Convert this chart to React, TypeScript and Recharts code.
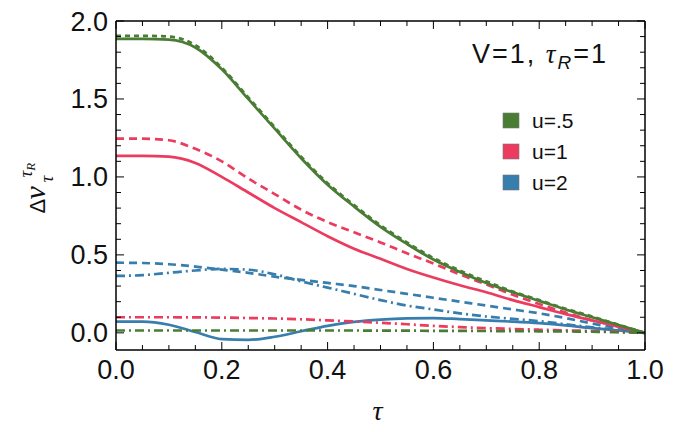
import { LineChart, Line, XAxis, YAxis, Legend, Label } from "recharts"

// tau grid
const T = [0, 0.05, 0.1, 0.15, 0.2, 0.25, 0.3, 0.35, 0.4, 0.45, 0.5, 0.55, 0.6, 0.65, 0.7, 0.75, 0.8, 0.85, 0.9, 0.95, 1]

// u = .5
const GREEN_SOLID = [1.885, 1.885, 1.88, 1.83, 1.69, 1.5, 1.31, 1.12, 0.95, 0.81, 0.68, 0.57, 0.47, 0.39, 0.32, 0.26, 0.205, 0.15, 0.1, 0.05, 0]
const GREEN_DASH = [1.905, 1.905, 1.9, 1.845, 1.7, 1.51, 1.32, 1.13, 0.96, 0.82, 0.69, 0.58, 0.48, 0.4, 0.33, 0.265, 0.21, 0.155, 0.105, 0.052, 0]
const GREEN_DOTDASH = [0.015, 0.015, 0.015, 0.015, 0.015, 0.015, 0.015, 0.015, 0.015, 0.015, 0.014, 0.014, 0.013, 0.013, 0.012, 0.011, 0.01, 0.009, 0.007, 0.004, 0]

// u = 1
const RED_SOLID = [1.135, 1.135, 1.13, 1.09, 1.0, 0.9, 0.8, 0.71, 0.62, 0.54, 0.475, 0.41, 0.355, 0.305, 0.26, 0.21, 0.165, 0.12, 0.08, 0.04, 0]
const RED_DASH = [1.245, 1.245, 1.235, 1.18, 1.1, 0.99, 0.89, 0.79, 0.71, 0.645, 0.58, 0.51, 0.445, 0.375, 0.31, 0.245, 0.185, 0.13, 0.08, 0.04, 0]
const RED_DOTDASH = [0.1, 0.1, 0.1, 0.099, 0.098, 0.095, 0.092, 0.087, 0.08, 0.073, 0.065, 0.055, 0.045, 0.037, 0.03, 0.025, 0.02, 0.016, 0.012, 0.006, 0]

// u = 2
const BLUE_SOLID = [0.072, 0.072, 0.052, 0.005, -0.04, -0.045, -0.025, 0.01, 0.045, 0.07, 0.085, 0.093, 0.095, 0.088, 0.08, 0.072, 0.062, 0.048, 0.03, 0.015, 0]
const BLUE_DASH = [0.45, 0.448, 0.44, 0.425, 0.405, 0.385, 0.36, 0.34, 0.32, 0.3, 0.275, 0.25, 0.225, 0.2, 0.175, 0.15, 0.125, 0.095, 0.06, 0.03, 0]
const BLUE_DOTDASH = [0.365, 0.37, 0.385, 0.4, 0.41, 0.405, 0.375, 0.33, 0.29, 0.25, 0.21, 0.175, 0.15, 0.125, 0.105, 0.09, 0.075, 0.055, 0.035, 0.018, 0]

const U_LABELS = ["u=.5", "u=1", "u=2"]
const X_TICKS = [0, 0.05, 0.1, 0.15, 0.2, 0.25, 0.3, 0.35, 0.4, 0.45, 0.5, 0.55, 0.6, 0.65, 0.7, 0.75, 0.8, 0.85, 0.9, 0.95, 1]
const Y_TICKS = [0, 0.1, 0.2, 0.3, 0.4, 0.5, 0.6, 0.7, 0.8, 0.9, 1, 1.1, 1.2, 1.3, 1.4, 1.5, 1.6, 1.7, 1.8, 1.9, 2]

const GREEN = "#4a7d34"
const RED = "#eb3c5f"
const BLUE = "#377dae"
const COLORS = [GREEN, RED, BLUE]

const data = T.map((t, i) => ({
  t,
  g1: GREEN_SOLID[i], g2: GREEN_DASH[i], g3: GREEN_DOTDASH[i],
  r1: RED_SOLID[i], r2: RED_DASH[i], r3: RED_DOTDASH[i],
  b1: BLUE_SOLID[i], b2: BLUE_DASH[i], b3: BLUE_DOTDASH[i],
}))

const SERIES = [
  { key: "b3", color: BLUE, dash: "9 4 2 4" },
  { key: "b2", color: BLUE, dash: "8 5" },
  { key: "b1", color: BLUE, dash: undefined },
  { key: "r3", color: RED, dash: "9 4 2 4" },
  { key: "r2", color: RED, dash: "8 5" },
  { key: "r1", color: RED, dash: undefined },
  { key: "g3", color: GREEN, dash: "9 4 2 4" },
  { key: "g1", color: GREEN, dash: undefined },
  { key: "g2", color: GREEN, dash: "5 4" },
]

const SANS = "Liberation Sans, Arial, sans-serif"
const SERIF = "Liberation Serif, Times New Roman, serif"

const isMajor = (v: number, step: number) => Math.abs(v / step - Math.round(v / step)) < 1e-6

function BottomTick({ x, y, payload }: any) {
  const major = isMajor(payload.value, 0.2)
  return (
    <g>
      <line x1={x} y1={y} x2={x} y2={y - (major ? 8 : 5)} stroke="#000" strokeWidth={1} />
      {major && (
        <text x={x} y={y + 29} textAnchor="middle" fontSize={27} fontFamily={SANS} fill="#111">
          {payload.value.toFixed(1)}
        </text>
      )}
    </g>
  )
}

function TopTick({ x, y, payload }: any) {
  const major = isMajor(payload.value, 0.2)
  return <line x1={x} y1={y} x2={x} y2={y + (major ? 8 : 5)} stroke="#000" strokeWidth={1} />
}

function LeftTick({ x, y, payload }: any) {
  const major = isMajor(payload.value, 0.5)
  return (
    <g>
      <line x1={x} y1={y} x2={x + (major ? 8 : 5)} y2={y} stroke="#000" strokeWidth={1} />
      {major && (
        <text x={x - 8} y={y + 9.5} textAnchor="end" fontSize={27} fontFamily={SANS} fill="#111">
          {payload.value.toFixed(1)}
        </text>
      )}
    </g>
  )
}

function RightTick({ x, y, payload }: any) {
  const major = isMajor(payload.value, 0.5)
  return <line x1={x} y1={y} x2={x - (major ? 8 : 5)} y2={y} stroke="#000" strokeWidth={1} />
}

function XTitle({ viewBox }: any) {
  const vb = viewBox || { x: 116, y: 350, width: 529 }
  return (
    <text x={vb.x + vb.width / 2 - 3} y={vb.y + 70} textAnchor="middle" fontSize={28} fontStyle="italic" fontFamily={SERIF} fill="#111">
      τ
    </text>
  )
}

function YTitle({ viewBox }: any) {
  const vb = viewBox || { x: 115, y: 21, height: 329 }
  const cx = vb.x - 70
  const cy = vb.y + vb.height / 2 + 28
  return (
    <g transform={`translate(${cx}, ${cy}) rotate(-90)`} fill="#111">
      <text x={0} y={0} fontSize={22} fontFamily={SANS}>Δ</text>
      <text x={14} y={0} fontSize={30} fontStyle="italic" fontFamily={SERIF}>v</text>
      <text x={31} y={8} fontSize={19} fontStyle="italic" fontFamily={SERIF}>τ</text>
      <text x={36} y={-13} fontSize={19} fontStyle="italic" fontFamily={SERIF}>
        τ<tspan fontSize={13} dy={3}>R</tspan>
      </text>
    </g>
  )
}

function LegendBox() {
  return (
    <svg width={190} height={180} style={{ display: "block" }}>
      <text x={168} y={43} textAnchor="end" fontSize={27} letterSpacing={2} fontFamily={SANS} fill="#111">
        V=1, <tspan fontStyle="italic" fontFamily={SERIF}>τ</tspan>
        <tspan fontStyle="italic" fontSize={19} dy={6}>R</tspan>
        <tspan dy={-6}>=1</tspan>
      </text>
      {U_LABELS.map((label, i) => (
        <g key={label}>
          <rect x={63} y={93 + i * 31} width={16} height={15} fill={COLORS[i]} stroke="#777" strokeWidth={0.6} />
          <text x={92} y={107.5 + i * 31} fontSize={21} fontFamily={SANS} fill="#111">{label}</text>
        </g>
      ))}
    </svg>
  )
}

export default function App() {
  return (
    <div style={{ position: "absolute", left: 0, top: 0, background: "#fff" }}>
      <LineChart width={698} height={432} data={data} margin={{ top: 20, right: 52, bottom: 81, left: 115 }}>
        <XAxis
          xAxisId="x"
          dataKey="t"
          type="number"
          domain={[0, 1]}
          ticks={X_TICKS}
          interval={0}
          height={1}
          tickSize={0}
          tickMargin={0}
          tick={BottomTick}
          tickLine={false}
          axisLine={{ stroke: "#000", strokeWidth: 1.5 }}
          allowDataOverflow
        >
          <Label content={XTitle} />
        </XAxis>
        <XAxis
          xAxisId="top"
          orientation="top"
          dataKey="t"
          type="number"
          domain={[0, 1]}
          ticks={X_TICKS}
          interval={0}
          height={1}
          tickSize={0}
          tickMargin={0}
          tick={TopTick}
          tickLine={false}
          axisLine={{ stroke: "#000", strokeWidth: 1.5 }}
          allowDataOverflow
        />
        <YAxis
          yAxisId="y"
          type="number"
          domain={[-0.11, 2]}
          ticks={Y_TICKS}
          interval={0}
          width={1}
          tickSize={0}
          tickMargin={0}
          tick={LeftTick}
          tickLine={false}
          axisLine={{ stroke: "#000", strokeWidth: 1.5 }}
          allowDataOverflow
        >
          <Label content={YTitle} />
        </YAxis>
        <YAxis
          yAxisId="right"
          orientation="right"
          type="number"
          domain={[-0.11, 2]}
          ticks={Y_TICKS}
          interval={0}
          width={1}
          tickSize={0}
          tickMargin={0}
          tick={RightTick}
          tickLine={false}
          axisLine={{ stroke: "#000", strokeWidth: 1.5 }}
          allowDataOverflow
        />
        <Legend
          layout="vertical"
          align="center"
          verticalAlign="middle"
          wrapperStyle={{ left: 440, top: 20, width: 190, height: 180 }}
          content={() => <LegendBox />}
        />
        {SERIES.map((s) => (
          <Line
            key={s.key}
            xAxisId="x"
            yAxisId="y"
            type="monotone"
            dataKey={s.key}
            stroke={s.color}
            strokeWidth={2.7}
            strokeDasharray={s.dash}
            dot={false}
            activeDot={false}
            isAnimationActive={false}
          />
        ))}
      </LineChart>
    </div>
  )
}
